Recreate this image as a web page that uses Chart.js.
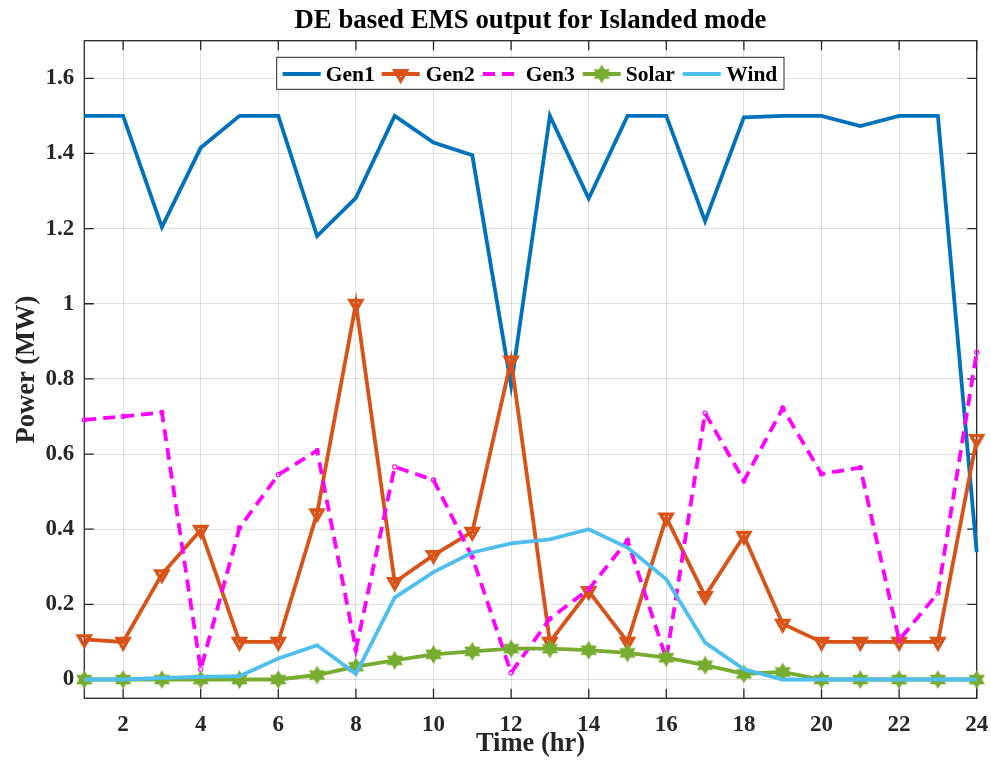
<!DOCTYPE html>
<html>
<head>
<meta charset="utf-8">
<script src="https://cdn.jsdelivr.net/npm/chart.js@4.4.1/dist/chart.umd.min.js"></script>
<style>
  html, body { margin: 0; padding: 0; background: #fff; }
  #wrap { width: 991px; height: 765px; }
</style>
</head>
<body>
<div id="wrap"><canvas id="c" width="991" height="765"></canvas></div>
<script>
// Hourly dispatch (MW) of each source over one day
const hours = [1, 2, 3, 4, 5, 6, 7, 8, 9, 10, 11, 12, 13, 14, 15, 16, 17, 18, 19, 20, 21, 22, 23, 24];
const gen1  = [1.5, 1.5, 1.204, 1.415, 1.5, 1.5, 1.18, 1.282, 1.5, 1.429, 1.395, 0.782, 1.5, 1.28, 1.5, 1.5, 1.22, 1.496, 1.5, 1.5, 1.473, 1.5, 1.5, 0.339];
const gen2  = [0.107, 0.1, 0.28, 0.398, 0.1, 0.1, 0.442, 1.0, 0.259, 0.331, 0.393, 0.849, 0.1, 0.235, 0.1, 0.431, 0.222, 0.382, 0.148, 0.1, 0.1, 0.1, 0.1, 0.64];
const gen3  = [0.691, 0.70, 0.711, 0.027, 0.404, 0.545, 0.609, 0.08, 0.566, 0.531, 0.326, 0.018, 0.162, 0.24, 0.37, 0.055, 0.709, 0.529, 0.722, 0.547, 0.564, 0.105, 0.23, 0.871];
const solar = [0, 0, 0, 0, 0, 0, 0.012, 0.034, 0.051, 0.067, 0.075, 0.082, 0.082, 0.078, 0.071, 0.058, 0.038, 0.015, 0.02, 0, 0, 0, 0, 0];
const wind  = [0, 0, 0.004, 0.007, 0.009, 0.056, 0.091, 0.015, 0.218, 0.286, 0.338, 0.362, 0.373, 0.4, 0.351, 0.267, 0.098, 0.027, 0, 0, 0, 0, 0, 0];

const seriesNames = ['Gen1', 'Gen2', 'Gen3', 'Solar', 'Wind'];
const xTickValues = [2, 4, 6, 8, 10, 12, 14, 16, 18, 20, 22, 24];
const yTickValues = [0, 0.2, 0.4, 0.6, 0.8, 1, 1.2, 1.4, 1.6];
const yTickLabels = ['0', '0.2', '0.4', '0.6', '0.8', '1', '1.2', '1.4', '1.6'];
const chartTitle = 'DE based EMS output for Islanded mode';

const COL = {
  gen1: '#0072BD', gen2: '#D95319', gen3: '#FF00FF', solar: '#77AC30', wind: '#4DBEEE',
  axis: '#262626', grid: 'rgba(38,38,38,0.15)'
};
const FONT = "'Liberation Serif', 'Times New Roman', serif";
const LINE_W = 3.8;
const TRI_R = 6.8, TRI_W = 3.4;

// Filled six-pointed star used as the Solar marker
function hexagram(color, r) {
  const s = Math.ceil(r * 2 + 2);
  const cv = document.createElement('canvas');
  cv.width = s; cv.height = s;
  const g = cv.getContext('2d');
  const c = s / 2;
  g.fillStyle = color;
  for (const off of [-Math.PI / 2, Math.PI / 2]) {
    g.beginPath();
    for (let k = 0; k < 3; k++) {
      const a = off + k * 2 * Math.PI / 3;
      const px = c + r * Math.cos(a), py = c + r * Math.sin(a);
      if (k) g.lineTo(px, py); else g.moveTo(px, py);
    }
    g.closePath();
    g.fill();
  }
  return cv;
}
const starImg = hexagram(COL.solar, 9.5);

const pts = arr => hours.map((h, i) => ({ x: h, y: arr[i] }));

// Axes box with inward tick marks on all four sides, plus the title centred over the plot
const framePlugin = {
  id: 'frame',
  beforeDatasetsDraw(chart) {
    const { ctx, chartArea: a, scales: { x, y } } = chart;
    ctx.save();
    ctx.strokeStyle = COL.axis;
    ctx.lineWidth = 1.3;
    ctx.strokeRect(a.left, a.top, a.right - a.left, a.bottom - a.top);
    const L = 9.5;
    ctx.beginPath();
    xTickValues.forEach(v => {
      const px = x.getPixelForValue(v);
      ctx.moveTo(px, a.bottom); ctx.lineTo(px, a.bottom - L);
      ctx.moveTo(px, a.top); ctx.lineTo(px, a.top + L);
    });
    yTickValues.forEach(v => {
      const py = y.getPixelForValue(v);
      ctx.moveTo(a.left, py); ctx.lineTo(a.left + L, py);
      ctx.moveTo(a.right, py); ctx.lineTo(a.right - L, py);
    });
    ctx.stroke();

    ctx.fillStyle = '#000';
    ctx.font = "bold 26.8px " + FONT;
    ctx.textAlign = 'center';
    ctx.textBaseline = 'alphabetic';
    ctx.fillText(chartTitle, (a.left + a.right) / 2, 28.3);
    ctx.restore();
  }
};

function strokeDownTriangle(ctx, cx, cy, r) {
  ctx.beginPath();
  ctx.moveTo(cx, cy + r);
  ctx.lineTo(cx - r * Math.sqrt(3) / 2, cy - r / 2);
  ctx.lineTo(cx + r * Math.sqrt(3) / 2, cy - r / 2);
  ctx.closePath();
  ctx.stroke();
}

// Boxed legend placed inside the top of the plot
const legendPlugin = {
  id: 'boxLegend',
  afterDatasetsDraw(chart) {
    const { ctx } = chart;
    const box = { x: 276.7, y: 57.3, w: 507.3, h: 32 };
    const lineY = 74;
    const items = [
      { name: seriesNames[0], x1: 282.7, tx: 325.7, color: COL.gen1, dash: [], marker: null },
      { name: seriesNames[1], x1: 381.7, tx: 425.7, color: COL.gen2, dash: [], marker: 'tri' },
      { name: seriesNames[2], x1: 483,   tx: 525.7, color: COL.gen3, dash: [12, 7], marker: null },
      { name: seriesNames[3], x1: 582.7, tx: 625.7, color: COL.solar, dash: [], marker: 'star' },
      { name: seriesNames[4], x1: 682.7, tx: 726.3, color: COL.wind, dash: [], marker: null }
    ];
    ctx.save();
    ctx.fillStyle = '#fff';
    ctx.fillRect(box.x, box.y, box.w, box.h);
    ctx.strokeStyle = COL.axis;
    ctx.lineWidth = 1;
    ctx.strokeRect(box.x, box.y, box.w, box.h);
    ctx.font = "bold 21.5px " + FONT;
    ctx.textBaseline = 'alphabetic';
    ctx.textAlign = 'left';
    items.forEach(it => {
      const x2 = it.x1 + 38;
      ctx.strokeStyle = it.color;
      ctx.lineWidth = LINE_W;
      ctx.setLineDash(it.dash);
      ctx.beginPath();
      ctx.moveTo(it.x1, lineY); ctx.lineTo(x2, lineY);
      ctx.stroke();
      ctx.setLineDash([]);
      const cx = (it.x1 + x2) / 2;
      if (it.marker === 'tri') {
        ctx.lineWidth = TRI_W;
        ctx.lineJoin = 'miter';
        strokeDownTriangle(ctx, cx, lineY, TRI_R);
      } else if (it.marker === 'star') {
        ctx.drawImage(starImg, cx - starImg.width / 2, lineY - starImg.height / 2);
      }
      ctx.fillStyle = '#000';
      ctx.fillText(it.name, it.tx, 80.7);
    });
    ctx.restore();
  }
};

const tickFont = { family: FONT, size: 23, weight: 'bold' };
const labelFont = { family: FONT, size: 26.5, weight: 'bold' };

new Chart(document.getElementById('c').getContext('2d'), {
  type: 'line',
  data: {
    datasets: [
      { label: seriesNames[0], data: pts(gen1), borderColor: COL.gen1, borderWidth: LINE_W,
        pointRadius: 0, order: 4 },
      { label: seriesNames[1], data: pts(gen2), borderColor: COL.gen2, borderWidth: LINE_W,
        pointStyle: 'triangle', rotation: 180, pointRadius: TRI_R, pointBorderWidth: TRI_W,
        pointBorderColor: COL.gen2, pointBackgroundColor: 'rgba(0,0,0,0)', order: 3 },
      { label: seriesNames[2], data: pts(gen3), borderColor: COL.gen3, borderWidth: LINE_W,
        borderDash: [12, 7], pointStyle: 'circle', pointRadius: 2.1, pointBorderWidth: 1.1,
        pointBorderColor: COL.gen3, pointBackgroundColor: 'rgba(0,0,0,0)', order: 2 },
      { label: seriesNames[3], data: pts(solar), borderColor: COL.solar, borderWidth: LINE_W,
        pointStyle: starImg, pointRadius: 9, order: 1 },
      { label: seriesNames[4], data: pts(wind), borderColor: COL.wind, borderWidth: LINE_W,
        pointRadius: 0, order: 0 }
    ]
  },
  options: {
    responsive: false,
    animation: false,
    devicePixelRatio: 1,
    clip: false,
    elements: { line: { tension: 0 } },
    layout: { padding: { left: 0, right: 14.3, top: 40.7, bottom: 0 } },
    plugins: {
      legend: { display: false },
      tooltip: { enabled: false },
      title: { display: false }
    },
    scales: {
      x: {
        type: 'linear', min: 1, max: 24,
        afterBuildTicks: s => { s.ticks = xTickValues.map(v => ({ value: v })); },
        afterFit: s => { s.height = 66.7; s.paddingLeft = 0; s.paddingRight = 0; },
        ticks: { font: tickFont, color: COL.axis, padding: 13, maxRotation: 0, autoSkip: false,
                 callback: v => String(v) },
        grid: { color: COL.grid, lineWidth: 1, drawTicks: false },
        border: { display: false },
        title: { display: true, text: 'Time (hr)', color: COL.axis, font: labelFont,
                 padding: { top: 0, bottom: 5 } }
      },
      y: {
        type: 'linear', min: -0.05, max: 1.7,
        afterBuildTicks: s => { s.ticks = yTickValues.map(v => ({ value: v })); },
        afterFit: s => { s.width = 84.3; s.paddingTop = 0; s.paddingBottom = 0; },
        ticks: { font: tickFont, color: COL.axis, padding: 10, autoSkip: false,
                 callback: (v, i) => yTickLabels[i] },
        grid: { color: COL.grid, lineWidth: 1, drawTicks: false },
        border: { display: false },
        title: { display: true, text: 'Power (MW)', color: COL.axis, font: labelFont,
                 padding: { top: 11, bottom: 0 } }
      }
    }
  },
  plugins: [framePlugin, legendPlugin]
});
</script>
</body>
</html>
